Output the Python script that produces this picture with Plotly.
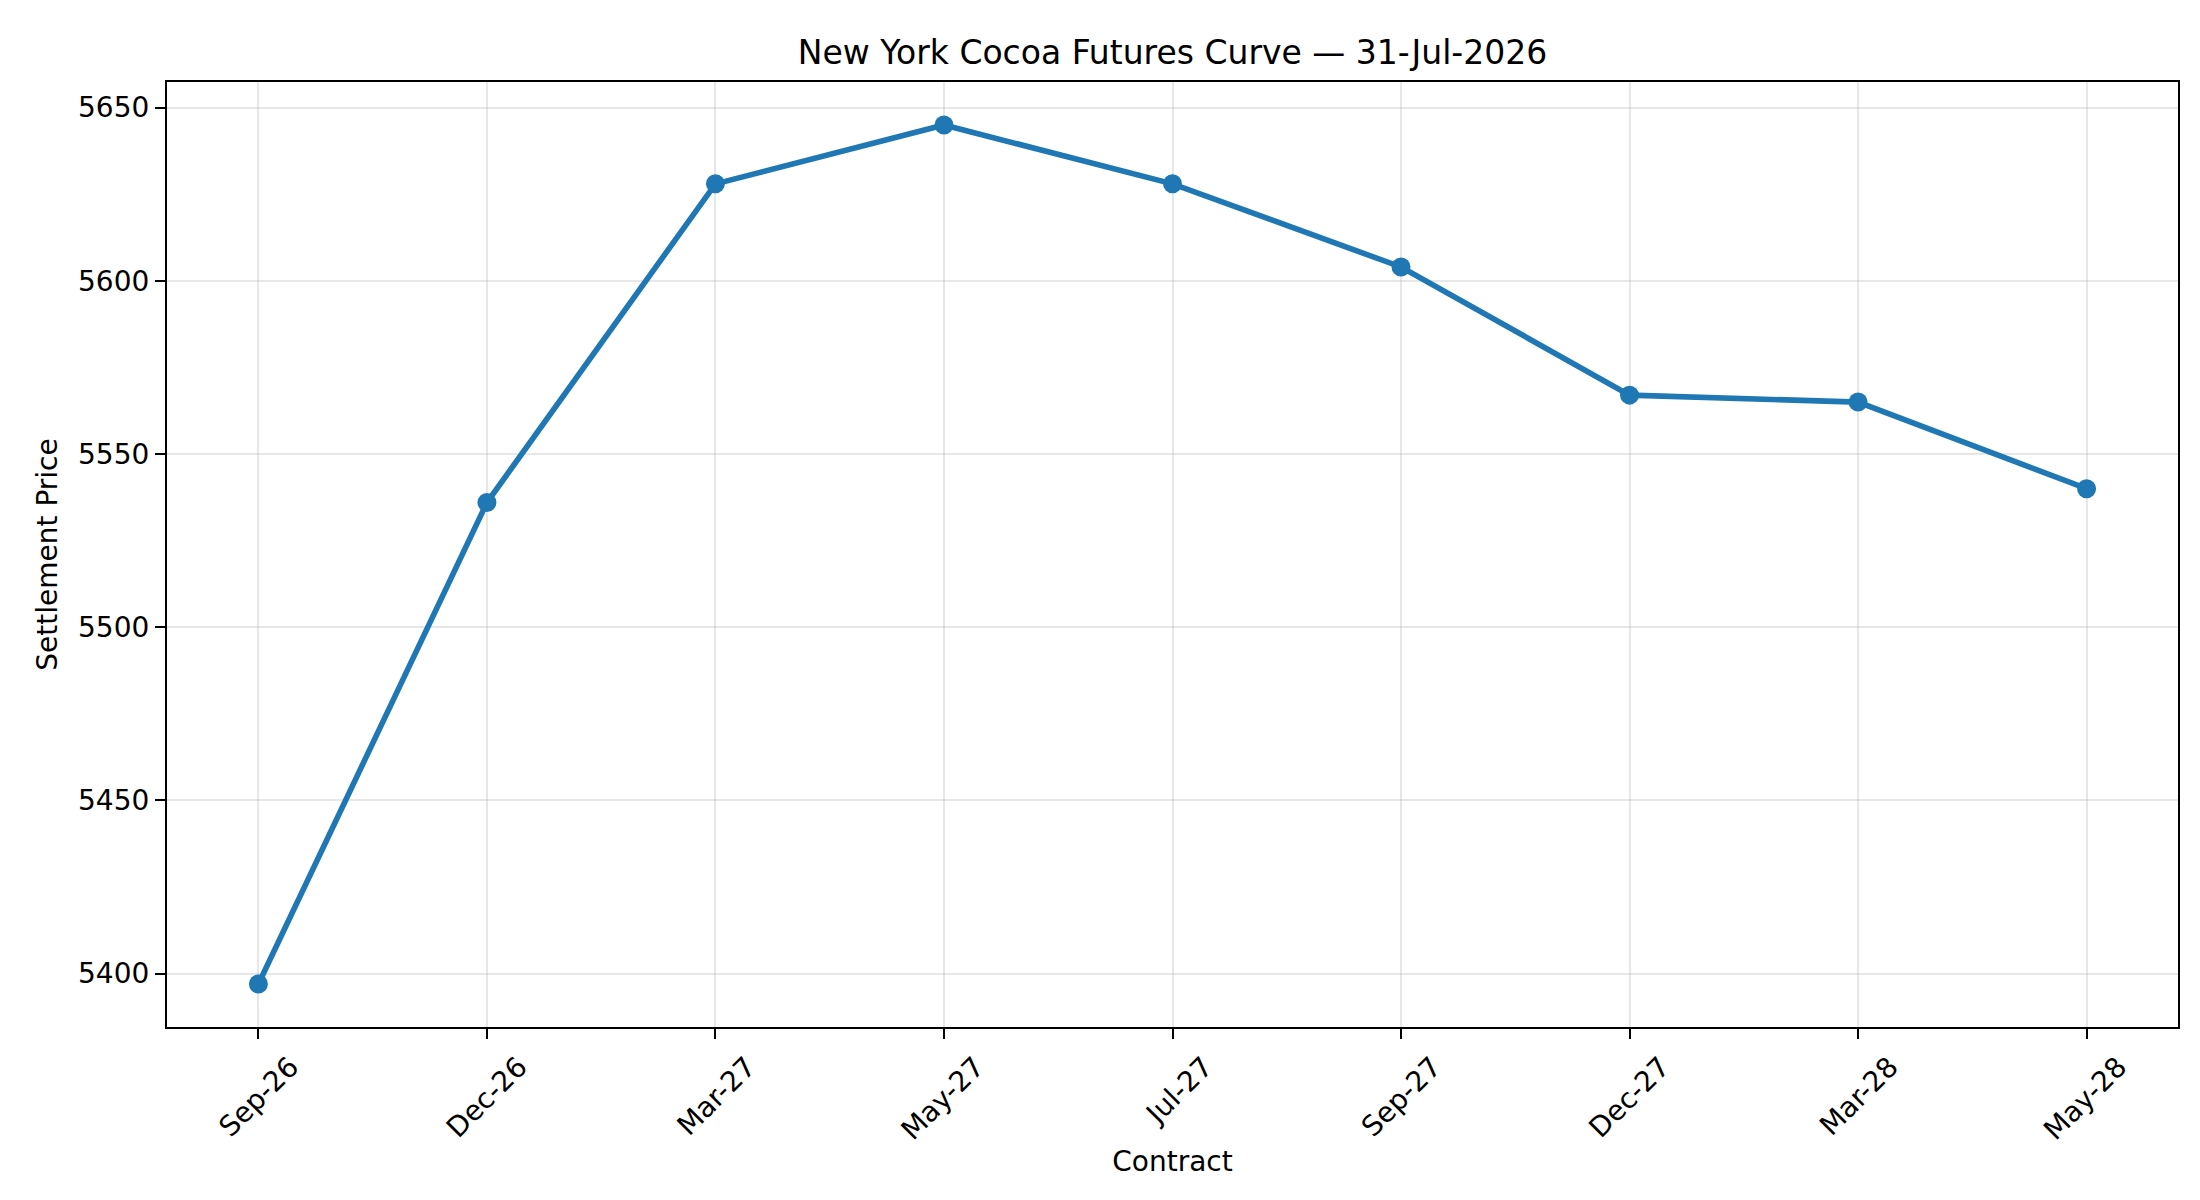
import plotly.graph_objects as go

contracts = ["Sep-26", "Dec-26", "Mar-27", "May-27", "Jul-27",
             "Sep-27", "Dec-27", "Mar-28", "May-28"]
settle = [5397, 5536, 5628, 5645, 5628, 5604, 5567, 5565, 5540]
y_ticks = [5400, 5450, 5500, 5550, 5600, 5650]

title_text = "New York Cocoa Futures Curve \u2014 31-Jul-2026"

font = "DejaVu Sans"
blue = "#1f77b4"
grid = "rgba(176,176,176,0.3)"

fig = go.Figure()
fig.add_trace(go.Scatter(
    x=list(range(len(contracts))),
    y=settle,
    mode="lines+markers",
    line=dict(color=blue, width=5.6),
    marker=dict(color=blue, size=19),
    showlegend=False,
))

# matplotlib-style 5% padding
lo, hi = min(settle), max(settle)
pad = (hi - lo) * 0.05
n = len(contracts)

fig.update_layout(
    width=2200, height=1200,
    margin=dict(l=159, r=30, t=74, b=181),
    paper_bgcolor="white", plot_bgcolor="white",
    font=dict(family=font, size=28, color="black"),
    title=dict(text=title_text, x=0.5, xref="paper", xanchor="center",
               y=1 - 44 / 1200, yref="container", yanchor="middle",
               font=dict(size=33, color="black")),
)
fig.update_xaxes(
    range=[-0.4, n - 1 + 0.4],
    tickmode="array", tickvals=list(range(n)), ticktext=contracts,
    tickangle=-45, ticklabelshift=32, ticklabelstandoff=0,
    ticks="outside", ticklen=10, tickwidth=2.2, tickcolor="black",
    showline=True, linecolor="black", linewidth=2.2, mirror=True,
    showgrid=True, gridcolor=grid, gridwidth=2.2, zeroline=False,
    title=dict(text="Contract", standoff=6, font=dict(size=28)),
)
fig.update_yaxes(
    range=[lo - pad, hi + pad],
    tickmode="array", tickvals=y_ticks,
    ticks="outside", ticklen=10, tickwidth=2.2, tickcolor="black",
    showline=True, linecolor="black", linewidth=2.2, mirror=True,
    showgrid=True, gridcolor=grid, gridwidth=2.2, zeroline=False,
    title=dict(text="Settlement Price", standoff=12, font=dict(size=28)),
)

fig.write_html("out.html")
